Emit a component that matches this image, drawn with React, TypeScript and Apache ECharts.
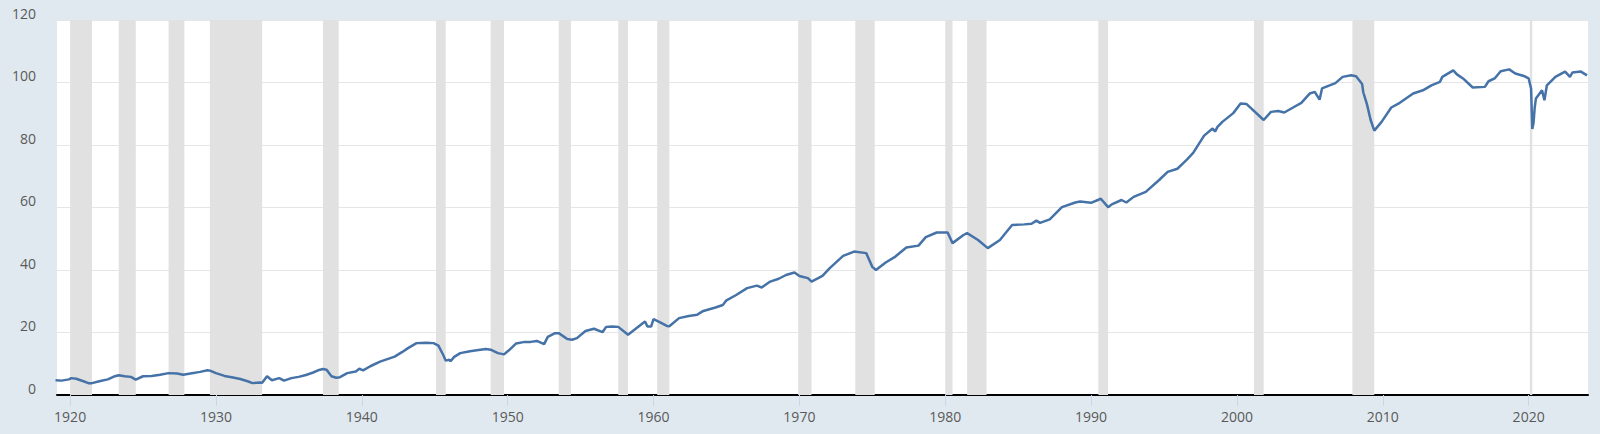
import { useEffect, useRef } from 'react'
import * as echarts from 'echarts'

// Industrial production index (2017 = 100)
const ipData: [string, number][] = [
  ['1919-01', 4.7], ['1919-06', 4.6], ['1919-12', 5.0], ['1920-02', 5.4], ['1920-06', 5.2],
  ['1920-12', 4.4], ['1921-04', 3.8], ['1921-07', 3.8], ['1922-01', 4.4], ['1922-08', 5.0],
  ['1923-01', 5.9], ['1923-05', 6.3], ['1923-10', 6.0], ['1924-03', 5.8], ['1924-07', 4.9],
  ['1925-01', 6.0], ['1925-08', 6.1], ['1926-03', 6.5], ['1926-10', 7.0], ['1927-05', 6.9],
  ['1927-10', 6.5], ['1928-04', 6.9], ['1928-12', 7.4], ['1929-06', 7.9], ['1929-08', 7.8],
  ['1930-01', 7.0], ['1930-08', 6.1], ['1931-03', 5.6], ['1931-09', 5.1], ['1932-03', 4.4],
  ['1932-07', 3.8], ['1933-01', 4.0], ['1933-03', 3.9], ['1933-07', 6.0], ['1933-11', 4.7],
  ['1934-05', 5.4], ['1934-09', 4.6], ['1935-03', 5.4], ['1935-09', 5.8], ['1936-03', 6.4],
  ['1936-09', 7.2], ['1937-01', 7.9], ['1937-05', 8.3], ['1937-08', 8.1], ['1937-12', 6.0],
  ['1938-04', 5.5], ['1938-07', 5.7], ['1939-01', 7.0], ['1939-08', 7.5], ['1939-11', 8.4],
  ['1940-02', 7.9], ['1940-08', 9.2], ['1941-04', 10.7], ['1941-10', 11.5], ['1942-04', 12.3],
  ['1942-10', 13.7], ['1943-03', 15.0], ['1943-10', 16.6], ['1944-06', 16.7], ['1944-12', 16.6],
  ['1945-04', 15.8], ['1945-08', 12.8], ['1945-10', 11.0], ['1946-01', 11.3], ['1946-02', 10.8],
  ['1946-05', 12.2], ['1946-10', 13.4], ['1947-06', 14.0], ['1948-01', 14.4], ['1948-07', 14.7],
  ['1948-11', 14.5], ['1949-05', 13.4], ['1949-10', 13.0], ['1950-02', 14.3], ['1950-08', 16.5],
  ['1951-03', 17.0], ['1951-08', 17.0], ['1952-01', 17.3], ['1952-07', 16.3], ['1952-10', 18.6],
  ['1953-04', 19.8], ['1953-07', 19.8], ['1954-02', 17.9], ['1954-06', 17.7], ['1954-10', 18.2],
  ['1955-05', 20.5], ['1955-12', 21.2], ['1956-07', 20.1], ['1956-10', 21.8], ['1957-03', 21.9],
  ['1957-08', 21.8], ['1958-04', 19.3], ['1958-09', 20.8], ['1959-06', 23.5], ['1959-08', 21.9],
  ['1959-11', 21.9], ['1960-01', 24.3], ['1960-06', 23.3], ['1960-12', 22.1], ['1961-02', 22.0],
  ['1961-10', 24.6], ['1962-06', 25.3], ['1963-01', 25.7], ['1963-06', 26.9], ['1964-04', 28.0],
  ['1964-10', 28.8], ['1965-01', 30.3], ['1965-09', 32.0], ['1966-06', 34.2], ['1967-02', 35.0],
  ['1967-06', 34.4], ['1968-01', 36.3], ['1968-08', 37.2], ['1969-02', 38.4], ['1969-09', 39.2],
  ['1970-01', 38.1], ['1970-08', 37.4], ['1970-11', 36.3], ['1971-08', 38.1], ['1972-02', 40.6],
  ['1973-01', 44.5], ['1973-10', 45.9], ['1974-08', 45.4], ['1975-01', 41.0], ['1975-04', 40.0],
  ['1975-12', 42.4], ['1976-08', 44.3], ['1977-05', 47.2], ['1978-03', 47.8], ['1978-09', 50.5],
  ['1979-06', 52.0], ['1980-03', 52.0], ['1980-07', 48.6], ['1981-04', 51.2], ['1981-07', 51.8],
  ['1982-04', 49.6], ['1982-12', 47.0], ['1983-10', 49.6], ['1984-08', 54.4], ['1985-06', 54.6],
  ['1985-12', 54.8], ['1986-04', 55.8], ['1986-07', 55.1], ['1987-03', 56.2], ['1988-01', 60.1],
  ['1988-12', 61.6], ['1989-04', 61.9], ['1990-01', 61.5], ['1990-09', 62.8], ['1991-03', 60.1],
  ['1991-06', 61.0], ['1992-02', 62.4], ['1992-06', 61.6], ['1992-12', 63.4], ['1993-10', 65.0],
  ['1994-09', 68.8], ['1995-04', 71.4], ['1995-12', 72.4], ['1996-04', 73.9], ['1996-08', 75.4],
  ['1997-01', 77.5], ['1997-10', 83.0], ['1998-05', 85.3], ['1998-07', 84.3], ['1998-09', 85.8],
  ['1999-01', 87.4], ['1999-10', 90.2], ['2000-04', 93.3], ['2000-09', 93.1], ['2001-11', 88.0],
  ['2002-05', 90.6], ['2002-11', 90.9], ['2003-04', 90.4], ['2004-01', 92.4], ['2004-06', 93.5],
  ['2005-01', 96.5], ['2005-05', 97.0], ['2005-09', 94.5], ['2005-11', 98.1], ['2006-10', 99.8],
  ['2007-04', 101.8], ['2007-11', 102.3], ['2008-03', 102.0], ['2008-08', 99.5], ['2008-09', 96.8],
  ['2008-12', 93.0], ['2009-03', 88.0], ['2009-06', 84.6], ['2009-12', 87.4], ['2010-08', 92.0],
  ['2011-03', 93.5], ['2012-02', 96.5], ['2012-10', 97.5], ['2013-05', 99.1], ['2013-12', 100.2],
  ['2014-02', 101.8], ['2014-11', 103.9], ['2015-02', 102.6], ['2015-07', 101.3], ['2016-03', 98.4],
  ['2017-01', 98.6], ['2017-04', 100.4], ['2017-09', 101.3], ['2018-02', 103.6], ['2018-09', 104.2],
  ['2019-02', 102.9], ['2019-09', 102.1], ['2020-01', 101.3], ['2020-03', 98.1], ['2020-04', 85.1],
  ['2020-05', 87.0], ['2020-06', 92.0], ['2020-07', 94.9], ['2020-12', 97.5], ['2021-02', 94.3],
  ['2021-04', 99.1], ['2021-11', 101.8], ['2022-07', 103.5], ['2022-11', 101.8], ['2023-01', 103.2],
  ['2023-08', 103.5], ['2024-01', 102.3],
]

// NBER recessions (peak month, trough month)
const recessionStarts = [
  '1920-01', '1923-05', '1926-10', '1929-08', '1937-05', '1945-02', '1948-11', '1953-07', '1957-08',
  '1960-04', '1969-12', '1973-11', '1980-01', '1981-07', '1990-07', '2001-03', '2007-12', '2020-02',
]
const recessionEnds = [
  '1921-07', '1924-07', '1927-11', '1933-03', '1938-06', '1945-10', '1949-10', '1954-05', '1958-04',
  '1961-02', '1970-11', '1975-03', '1980-07', '1982-11', '1991-03', '2001-11', '2009-06', '2020-04',
]

const xTickYears = [1920, 1930, 1940, 1950, 1960, 1970, 1980, 1990, 2000, 2010, 2020]

// 'YYYY-MM' -> decimal year
const yr = (ym: string) => +ym.slice(0, 4) + (+ym.slice(5, 7) - 1) / 12

export default function App() {
  const ref = useRef<HTMLDivElement>(null)

  useEffect(() => {
    if (!ref.current) return
    const chart = echarts.init(ref.current, undefined, { renderer: 'svg' })
    const font = '"Open Sans", "Noto Sans", sans-serif'
    chart.setOption({
      animation: false,
      backgroundColor: '#e1e9f0',
      grid: {
        left: 57, right: 12, top: 20, bottom: 39,
        show: true, backgroundColor: '#ffffff', borderWidth: 0,
      },
      xAxis: {
        type: 'value',
        min: 1919.1,
        max: 2024.07,
        axisLine: { show: true, onZero: false, lineStyle: { color: '#000000', width: 2 } },
        axisTick: {
          show: true, length: 11, lineStyle: { color: '#ccd6eb', width: 1 },
          customValues: xTickYears,
        },
        axisLabel: {
          color: '#595959', fontSize: 14, fontFamily: font, margin: 14,
          customValues: xTickYears,
          formatter: (v: number) => String(Math.round(v)),
        },
        splitLine: { show: false },
      },
      yAxis: {
        type: 'value',
        min: 0, max: 120, interval: 20,
        axisLine: { show: false },
        axisTick: { show: false },
        axisLabel: {
          color: '#595959', fontSize: 14, fontFamily: font, margin: 21,
          verticalAlign: 'bottom', lineHeight: 14,
        },
        splitLine: { lineStyle: { color: '#e6e6e6', width: 1 } },
      },
      series: [
        {
          type: 'line',
          data: ipData.map(([d, v]) => [yr(d), v]),
          symbol: 'none',
          lineStyle: { color: '#4572a7', width: 2.5 },
          markArea: {
            silent: true,
            itemStyle: { color: '#e1e1e1' },
            data: recessionStarts.map((s, i) => [{ xAxis: yr(s) }, { xAxis: yr(recessionEnds[i]) }]),
          },
        },
      ],
    })
    return () => chart.dispose()
  }, [])

  return <div ref={ref} style={{ position: 'absolute', left: 0, top: 0, width: 1600, height: 434 }} />
}
